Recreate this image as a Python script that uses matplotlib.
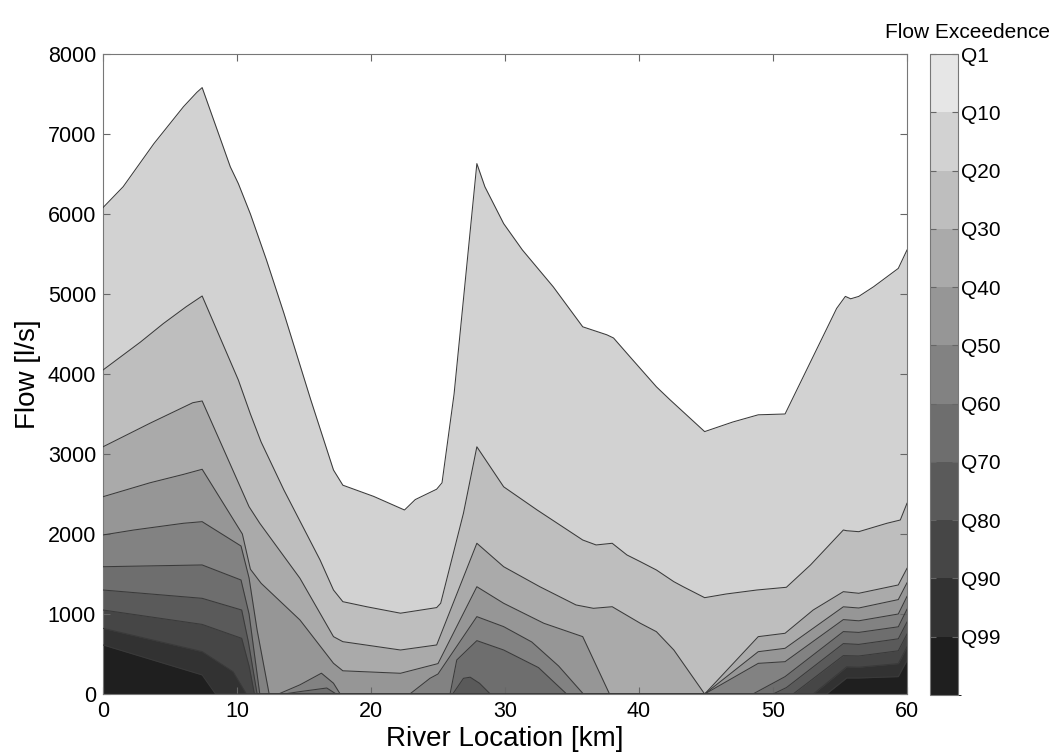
import matplotlib
matplotlib.use("Agg")
import matplotlib.pyplot as plt
from matplotlib.colors import ListedColormap, BoundaryNorm
from matplotlib.cm import ScalarMappable

plt.rcParams['font.family'] = ['Liberation Sans', 'DejaVu Sans']

# Flow exceedance curves along the river: location [km] and flow [l/s]
q10_km = [0, 1.5, 3.8, 6.0, 7.0, 7.4, 9.5, 10.1, 11.0, 12.2, 13.5, 15.5, 17.2, 17.9,
          20.2, 22.5, 23.3, 24.9, 25.3, 26.2, 27.9, 28.5, 29.9, 31.3, 33.6, 35.8,
          37.6, 38.1, 39.3, 41.3, 42.3, 44.9, 47.0, 48.9, 50.9, 54.75, 55.4, 55.8,
          56.4, 57.5, 59.35, 60]
q10_flow = [6080, 6340, 6880, 7340, 7520, 7580, 6590, 6380, 6000, 5425, 4760, 3680, 2800, 2610,
            2470, 2300, 2430, 2560, 2640, 3750, 6630, 6340, 5880, 5550, 5090, 4590,
            4490, 4450, 4220, 3840, 3680, 3280, 3400, 3490, 3500, 4820, 4970, 4940,
            4970, 5090, 5320, 5550]

q20_km = [0, 2.8, 4.5, 6.2, 7.4, 10.1, 11.0, 11.8, 13.5, 16.2, 17.2, 17.9, 19.7, 22.2,
          24.9, 25.2, 26.9, 27.9, 29.9, 32.4, 35.8, 36.8, 38.0, 39.1, 40.1, 41.3, 42.6,
          43.3, 44.9, 46.5, 48.8, 51.0, 52.8, 55.25, 55.5, 56.4, 58.5, 59.5, 60]
q20_flow = [4050, 4400, 4630, 4840, 4975, 3925, 3500, 3150, 2550, 1675, 1300, 1154, 1090, 1010,
            1080, 1134, 2260, 3090, 2590, 2300, 1925, 1863, 1884, 1738, 1654, 1550, 1404,
            1341, 1204, 1250, 1300, 1334, 1613, 2050, 2041, 2029, 2134, 2175, 2384]

q30_km = [0, 3.5, 6.7, 7.4, 10.9, 11.7, 14.7, 17.2, 17.9, 22.2, 24.9, 27.9, 29.9, 32.6,
          35.3, 36.6, 38.0, 40.1, 41.3, 42.6, 44.9, 48.9, 50.9, 53.0, 55.25, 56.4, 59.35, 60]
q30_flow = [3090, 3384, 3641, 3663, 2341, 2134, 1446, 717, 654, 550, 613, 1884, 1591, 1341,
            1113, 1071, 1091, 884, 779, 550, 0, 717, 759, 1050, 1279, 1259, 1363, 1571]

q40_km = [0, 3.5, 6.0, 7.4, 10.4, 11.0, 11.8, 14.7, 17.2, 17.9, 22.2, 25.0, 27.9, 29.9,
          32.9, 35.8, 37.8, 44.9, 48.9, 50.9, 55.25, 56.4, 59.35, 60]
q40_flow = [2466, 2640, 2745, 2809, 2000, 1560, 1384, 925, 384, 290, 259, 380, 1341, 1134,
            884, 717, 0, 0, 529, 571, 1090, 1075, 1180, 1390]

q50_km = [0, 2.3, 6.0, 7.4, 10.3, 10.9, 11.5, 12.4, 13.1, 14.7, 16.3, 17.2, 17.7, 22.9,
          24.4, 25.0, 27.9, 29.9, 32.0, 34.0, 35.85, 44.9, 48.9, 50.9, 55.25, 56.4, 59.35, 60]
q50_flow = [1988, 2050, 2134, 2154, 1850, 1450, 800, 0, 0, 115, 260, 135, 0, 0,
            196, 250, 967, 842, 650, 350, 0, 0, 383, 404, 930, 915, 1000, 1220]

q60_km = [0, 7.4, 10.3, 10.9, 11.7, 13.5, 14.7, 16.7, 17.4, 25.9, 26.4, 27.9, 29.9, 32.5,
          34.6, 48.5, 50.9, 55.25, 56.4, 59.35, 60]
q60_flow = [1591, 1613, 1425, 1000, 0, 0, 30, 75, 0, 0, 425, 667, 550, 330,
            0, 0, 217, 780, 770, 840, 1060]

q70_km = [0, 7.4, 10.35, 10.85, 11.5, 26.1, 26.9, 27.4, 28.1, 28.9, 50.0, 51.0, 55.25,
          56.4, 59.35, 60]
q70_flow = [1300, 1196, 1050, 650, 0, 0, 196, 210, 134, 0, 0, 80, 630,
            620, 690, 900]

q80_km = [0, 7.4, 10.35, 10.9, 11.3, 51.5, 55.25, 56.4, 59.35, 60]
q80_flow = [1050, 870, 696, 350, 0, 0, 480, 475, 540, 750]

q90_km = [0, 7.4, 9.7, 10.7, 53.0, 55.5, 56.4, 59.35, 60]
q90_flow = [821, 530, 280, 0, 0, 340, 335, 380, 590]

q99_km = [0, 7.4, 8.4, 54.0, 55.5, 56.4, 59.35, 60]
q99_flow = [613, 238, 0, 0, 200, 200, 217, 420]

curve_labels = ['Q10', 'Q20', 'Q30', 'Q40', 'Q50', 'Q60', 'Q70', 'Q80', 'Q90', 'Q99']
curve_km = [q10_km, q20_km, q30_km, q40_km, q50_km, q60_km, q70_km, q80_km, q90_km, q99_km]
curve_flow = [q10_flow, q20_flow, q30_flow, q40_flow, q50_flow, q60_flow, q70_flow,
              q80_flow, q90_flow, q99_flow]

colorbar_labels = ['Q1', 'Q10', 'Q20', 'Q30', 'Q40', 'Q50', 'Q60', 'Q70', 'Q80', 'Q90', 'Q99']

# grey shades from the Q1-Q10 band (lightest) down to the band below Q99 (darkest)
n_bands = len(colorbar_labels)
greys = [0.90 - i * (0.90 - 0.12) / (n_bands - 1) for i in range(n_bands)]
band_colors = [(g, g, g) for g in greys]

W, H = 1053, 753
fig = plt.figure(figsize=(W / 100, H / 100), dpi=100)
ax = fig.add_axes([103 / W, 1 - 694 / H, 804 / W, 640 / H])

# each curve fills the area below it with the band colour just under that level
for i, (km, flow) in enumerate(zip(curve_km, curve_flow)):
    ax.fill_between(km, flow, 0, color=band_colors[i + 1], linewidth=0, zorder=1 + i * 0.01)
for km, flow in zip(curve_km, curve_flow):
    ax.plot(km, flow, color='#3a3a3a', linewidth=0.75, zorder=3)

ax.set_xlim(0, 60)
ax.set_ylim(0, 8000)
ax.set_xticks(range(0, 61, 10))
ax.set_yticks(range(0, 8001, 1000))
ax.tick_params(direction='in', top=True, right=True, length=5, width=0.8,
               color='#666666', labelsize=15.5, pad=5)
for s in ax.spines.values():
    s.set_color('#777777')
    s.set_linewidth(0.8)
ax.set_xlabel('River Location [km]', fontsize=20, labelpad=3)
ax.set_ylabel('Flow [l/s]', fontsize=20, labelpad=5)

# colour key for the exceedance levels
cax = fig.add_axes([930 / W, 1 - 695 / H, 28 / W, 641 / H])
cmap = ListedColormap(band_colors[::-1])
norm = BoundaryNorm(list(range(n_bands + 1)), n_bands)
cb = fig.colorbar(ScalarMappable(norm=norm, cmap=cmap), cax=cax,
                  ticks=list(range(1, n_bands + 1)))
cb.set_ticklabels(colorbar_labels[::-1])
cb.ax.tick_params(direction='in', left=True, right=True, length=4, width=0.8,
                  color='#666666', labelsize=15, pad=2)
cb.outline.set_edgecolor('#777777')
cb.outline.set_linewidth(0.8)
fig.text(1050 / W, 1 - 33 / H, 'Flow Exceedence', ha='right', va='center', fontsize=15)

fig.savefig('out.png', dpi=100)
